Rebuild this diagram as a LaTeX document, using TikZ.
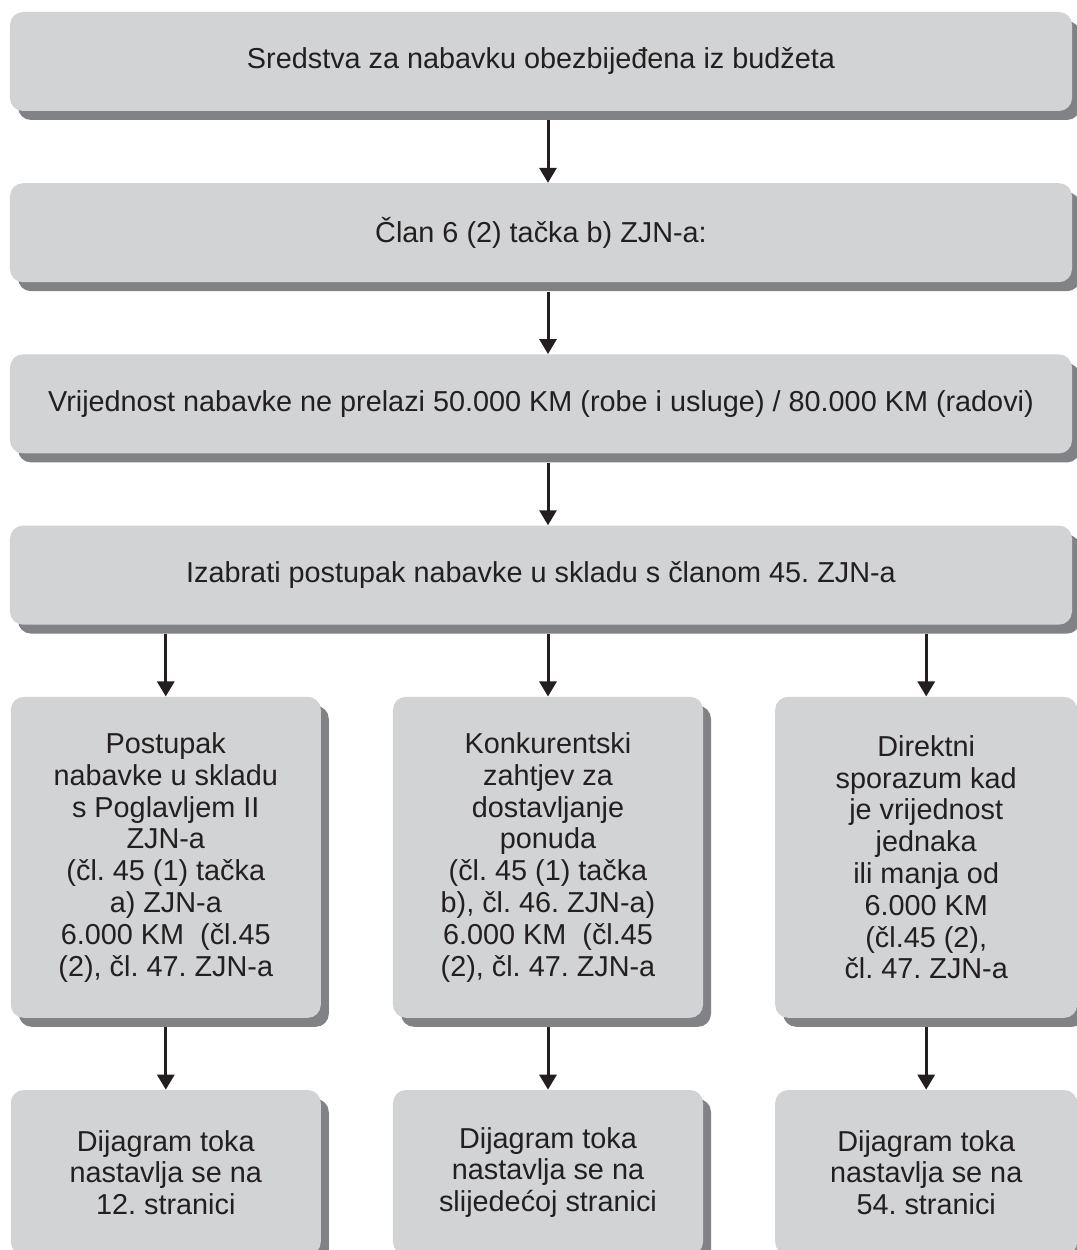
\documentclass[tikz,border=0pt]{standalone}
\usepackage{fontspec}
\setmainfont{Liberation Sans}
\usepackage{xcolor}
\usepackage{tikz}
\usetikzlibrary{
arrows.meta,
positioning,
shadows
}
\definecolor{boxgray}{HTML}{D1D3D4}
\definecolor{shadowgray}{HTML}{808285}
\definecolor{inkblack}{HTML}{231F20}
\frenchspacing

\begin{document}
\begin{tikzpicture}[
node distance=1.43cm,
box/.style={
fill=boxgray,
rounded corners=0.26cm,
minimum width=21.24cm,
minimum height=1.98cm,
align=center,
text=inkblack,
font=\fontsize{16.4}{18.1}\selectfont,
drop shadow={shadow xshift=0.16cm,shadow yshift=-0.18cm,fill=shadowgray,opacity=1}
},
colbox/.style={box,minimum width=6.2cm,minimum height=6.42cm},
endbox/.style={box,minimum width=6.2cm,minimum height=3.3cm},
arrow/.style={-{Triangle[width=0.34cm,length=0.3cm]},line width=0.06cm,draw=inkblack}
]

\useasboundingbox (-10.82,1.23) rectangle (10.72,-23.77);
\clip (-10.82,1.23) rectangle (10.72,-23.77);

\node[box] (budget) {Sredstva za nabavku obezbijeđena iz budžeta};
\node[box,below=of budget] (clan) {Član 6 (2) tačka b) ZJN-a:};
\node[box,below=of clan] (value) {Vrijednost nabavke ne prelazi 50.000 KM (robe i usluge) / 80.000 KM (radovi)};
\node[box,below=of value] (pick) {Izabrati postupak nabavke u skladu s članom 45. ZJN-a};

\node[colbox,below=of pick,xshift=0.14cm] (col2) {Konkurentski\\ zahtjev za\\ dostavljanje\\ ponuda\\ (čl. 45 (1) tačka\\ b), čl. 46. ZJN-a)\\ 6.000 KM \ (čl.45\\ (2), čl. 47. ZJN-a};
\node[colbox,left=of col2] (col1) {Postupak\\ nabavke u skladu\\ s Poglavljem II\\ ZJN-a\\ (čl. 45 (1) tačka\\ a) ZJN-a\\ 6.000 KM \ (čl.45\\ (2), čl. 47. ZJN-a};
\node[colbox,right=of col2,minimum width=6.04cm] (col3) {Direktni\\ sporazum kad\\ je vrijednost\\ jednaka\\ ili manja od\\ 6.000 KM\\ (čl.45 (2),\\ čl. 47. ZJN-a};

\node[endbox,below=of col1] (end1) {Dijagram toka\\ nastavlja se na\\ 12. stranici};
\node[endbox,below=of col2] (end2) {Dijagram toka\\ nastavlja se na\\ slijedećoj stranici};
\node[endbox,below=of col3,minimum width=6.04cm] (end3) {Dijagram toka\\ nastavlja se na\\ 54. stranici};

\draw[arrow] ([yshift=-0.18cm]budget.south -| col2) -- (clan.north -| col2);
\draw[arrow] ([yshift=-0.18cm]clan.south -| col2) -- (value.north -| col2);
\draw[arrow] ([yshift=-0.18cm]value.south -| col2) -- (pick.north -| col2);
\draw[arrow] ([yshift=-0.18cm]pick.south -| col1) -- (col1.north);
\draw[arrow] ([yshift=-0.18cm]pick.south -| col2) -- (col2.north);
\draw[arrow] ([yshift=-0.18cm]pick.south -| col3) -- (col3.north);
\draw[arrow] ([yshift=-0.18cm]col1.south) -- (end1.north);
\draw[arrow] ([yshift=-0.18cm]col2.south) -- (end2.north);
\draw[arrow] ([yshift=-0.18cm]col3.south) -- (end3.north);

\end{tikzpicture}
\end{document}
